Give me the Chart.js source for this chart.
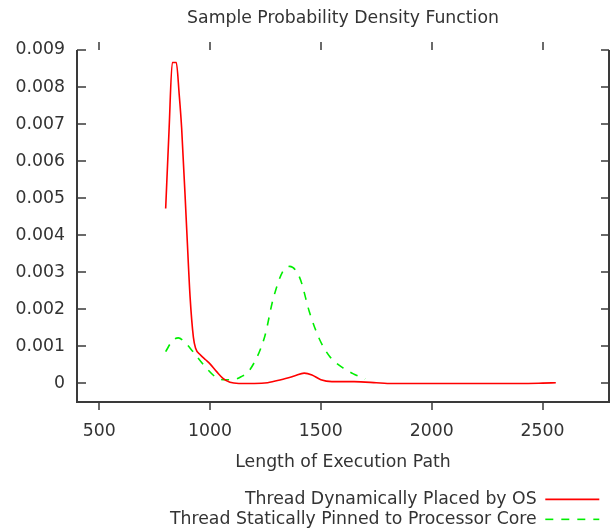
<!DOCTYPE html>
<html lang="en">
  <head>
    <meta charset="UTF-8" />
    <title>Sample Probability Density Function</title>
    <script src="https://cdn.jsdelivr.net/npm/chart.js"></script>
    <style>
      * {
        margin: 0;
        padding: 0;
        box-sizing: border-box;
      }
      body {
        background-color: #ffffff;
        width: 613px;
        height: 529px;
        overflow: hidden;
      }
      #wrap {
        position: relative;
        width: 613px;
        height: 529px;
      }
    </style>
  </head>
  <body>
    <div id="wrap"><canvas id="pdfChart"></canvas></div>

    <script>
      // Series
      const osPathX = [
        800, 815, 830, 848, 861, 872, 895, 910, 925, 935, 955, 980, 1000, 1030,
        1060, 1090, 1130, 1200, 1260, 1320, 1380, 1425, 1460, 1500, 1550, 1650,
        1750, 1800, 2000, 2200, 2400, 2500, 2560,
      ];
      const osPathY = [
        0.00472, 0.0068, 0.00866, 0.00866, 0.0078, 0.0069, 0.00415, 0.00235,
        0.00125, 0.00095, 0.00078, 0.00064, 0.00053, 0.00032, 0.00013, 0.00003,
        0.0, 0.0, 0.00002, 0.0001, 0.0002, 0.00028, 0.00023, 0.0001, 0.00005,
        0.00005, 0.00002, 0.0, 0.0, 0.0, 0.0, 0.00001, 0.00002,
      ];
      const pinnedPathX = [
        800, 830, 857, 880, 923, 977, 1031, 1070, 1103, 1140, 1180, 1247, 1284,
        1329, 1360, 1405, 1450, 1495, 1540, 1600, 1650, 1700,
      ];
      const pinnedPathY = [
        0.00086, 0.00115, 0.00123, 0.00115, 0.00086, 0.00046, 0.00015, 0.0001,
        0.0001, 0.00018, 0.00037, 0.00127, 0.00226, 0.00303, 0.00316, 0.00285,
        0.0019, 0.00118, 0.00073, 0.00042, 0.00025, 0.00012,
      ];
      const xTicks = [500, 1000, 1500, 2000, 2500];
      const yTicks = [
        0, 0.001, 0.002, 0.003, 0.004, 0.005, 0.006, 0.007, 0.008, 0.009,
      ];

      const textColor = "#333333";
      const axisColor = "#3a3a3a";
      const font = { family: "DejaVu Sans", size: 17.3, weight: "normal" };

      function toPoints(xs, ys) {
        return xs.map((x, i) => ({ x: x, y: ys[i] }));
      }

      // gnuplot-like frame: left, bottom, right border; y ticks inward, x ticks outward
      const framePlugin = {
        id: "frame",
        afterLayout(chart) {
          // pull the legend in a little from the right edge, like the key in the original
          const lg = chart.legend;
          if (lg) {
            lg.right -= 7;
            lg.width -= 7;
          }
        },
        afterDraw(chart) {
          const { ctx, chartArea } = chart;
          const xs = chart.scales.x;
          const ys = chart.scales.y;
          const { left, right, top, bottom } = chartArea;
          ctx.save();
          ctx.strokeStyle = axisColor;
          ctx.lineWidth = 2;
          ctx.beginPath();
          ctx.moveTo(left, top);
          ctx.lineTo(left, bottom);
          ctx.lineTo(right, bottom);
          ctx.lineTo(right, top);
          ctx.stroke();

          ctx.lineWidth = 1.5;
          ctx.beginPath();
          for (const v of yTicks) {
            const py = Math.round(ys.getPixelForValue(v));
            ctx.moveTo(left, py);
            ctx.lineTo(left + 9, py);
            ctx.moveTo(right, py);
            ctx.lineTo(right - 8, py);
          }
          for (const v of xTicks) {
            const px = Math.round(xs.getPixelForValue(v));
            ctx.moveTo(px, bottom);
            ctx.lineTo(px, bottom + 8);
            ctx.moveTo(px, top);
            ctx.lineTo(px, top - 8);
          }
          ctx.stroke();
          ctx.restore();
        },
      };

      new Chart(document.getElementById("pdfChart"), {
        type: "line",
        data: {
          datasets: [
            {
              label: "Thread Dynamically Placed by OS",
              data: toPoints(osPathX, osPathY),
              borderColor: "#ff0000",
              backgroundColor: "#ff0000",
              borderWidth: 1.6,
              pointRadius: 0,
              cubicInterpolationMode: "monotone",
            },
            {
              label: "Thread Statically Pinned to Processor Core",
              data: toPoints(pinnedPathX, pinnedPathY),
              borderColor: "#00ee00",
              backgroundColor: "#00ee00",
              borderWidth: 1.6,
              borderDash: [8, 8],
              pointRadius: 0,
              cubicInterpolationMode: "monotone",
            },
          ],
        },
        options: {
          responsive: true,
          maintainAspectRatio: false,
          animation: false,
          layout: { padding: { left: 0, right: 4, top: 0, bottom: 0 } },
          plugins: {
            title: {
              display: true,
              fullSize: false,
              text: "Sample Probability Density Function",
              color: textColor,
              font: font,
              padding: { top: 8.6, bottom: 20.6 },
            },
            legend: {
              position: "bottom",
              align: "start",
              rtl: true,
              maxHeight: 41,
              labels: {
                color: textColor,
                font: font,
                usePointStyle: true,
                pointStyle: "line",
                pointStyleWidth: 54,
                padding: 2.7,
                // point style hides the dataset dash, so copy it back
                generateLabels: (chart) => {
                  const items =
                    Chart.defaults.plugins.legend.labels.generateLabels(chart);
                  items.forEach((item) => {
                    const ds = chart.data.datasets[item.datasetIndex];
                    item.lineDash = ds.borderDash || [];
                    item.lineWidth = ds.borderWidth;
                    item.strokeStyle = ds.borderColor;
                  });
                  return items;
                },
              },
            },
            tooltip: { enabled: false },
          },
          scales: {
            x: {
              type: "linear",
              min: 400,
              max: 2800,
              grid: { display: false, drawTicks: false },
              border: { display: false },
              afterBuildTicks: (scale) => {
                scale.ticks = xTicks.map((v) => ({ value: v }));
              },
              afterFit: (scale) => {
                scale.height = 86;
              },
              ticks: {
                color: textColor,
                font: font,
                padding: 19.6,
                maxRotation: 0,
                callback: (v) => String(v),
              },
              title: {
                display: true,
                text: "Length of Execution Path",
                color: textColor,
                font: font,
                padding: { top: 0, bottom: 15.6 },
              },
            },
            y: {
              type: "linear",
              min: -0.0005,
              max: 0.009,
              grid: { display: false, drawTicks: false },
              border: { display: false },
              afterBuildTicks: (scale) => {
                scale.ticks = yTicks.map((v) => ({ value: v }));
              },
              afterFit: (scale) => {
                scale.width = 77;
              },
              ticks: {
                color: textColor,
                font: font,
                padding: 12,
                callback: (v) => (v === 0 ? "0" : v.toFixed(3)),
              },
            },
          },
        },
        plugins: [framePlugin],
      });
    </script>
  </body>
</html>
